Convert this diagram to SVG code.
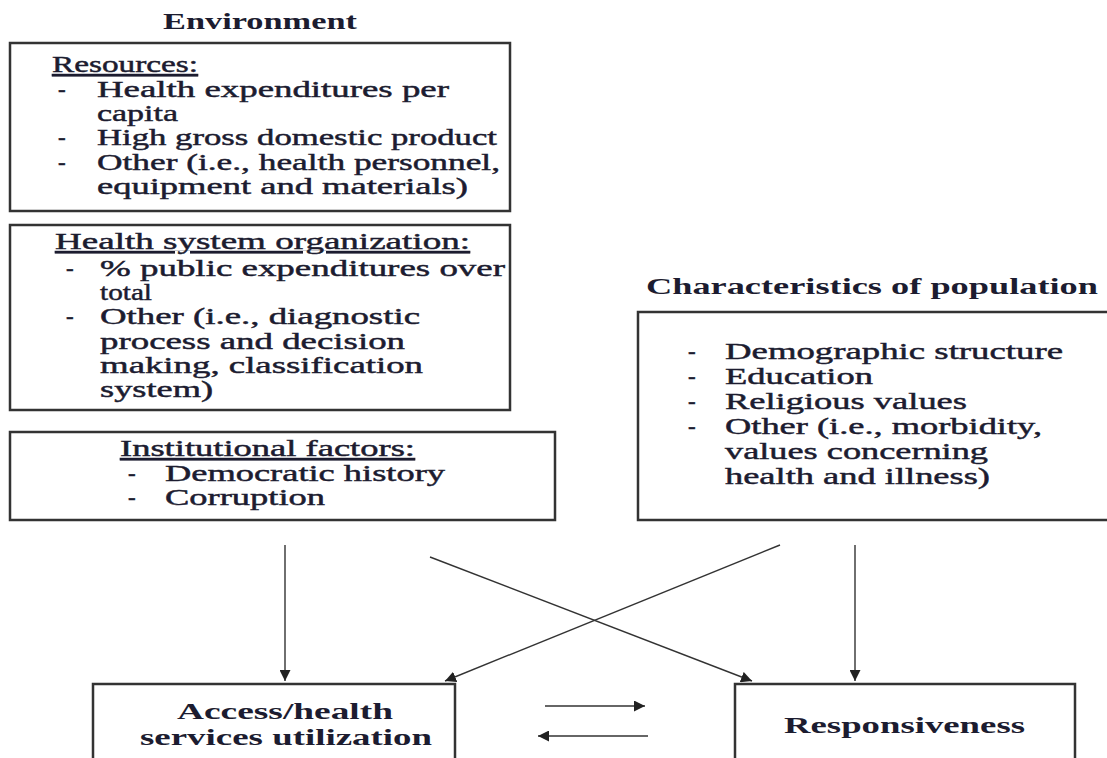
<svg xmlns="http://www.w3.org/2000/svg" width="1107" height="758" viewBox="0 0 1107 758">
<defs>
<marker id="ah" viewBox="0 0 10 10" refX="10" refY="5" markerWidth="11" markerHeight="11" markerUnits="userSpaceOnUse" orient="auto">
<path d="M0,0 L10,5 L0,10 z" fill="#222"/>
</marker>
<style>
.box{fill:#fff;stroke:#333;stroke-width:2.5}
.t{font-family:"Liberation Serif","Times New Roman",serif;font-size:23px;fill:#1c1c30;stroke:#1c1c30;stroke-width:0.45}
.b{font-family:"Liberation Serif","Times New Roman",serif;font-size:23px;font-weight:bold;fill:#1c1c30}
.u{text-decoration:underline}
.c{stroke:#333;stroke-width:1.4;fill:none;marker-end:url(#ah)}
</style>
</defs>
<rect width="1107" height="758" fill="#fff"/>
<text class="b" x="163" y="29" textLength="194" lengthAdjust="spacingAndGlyphs">Environment</text>
<g id="resources">
<rect class="box" x="10" y="43" width="500" height="168"/>
<text class="t u" x="52" y="72" textLength="146" lengthAdjust="spacingAndGlyphs">Resources:</text>
<text class="t" x="58" y="97">-</text>
<text class="t" x="97" y="97" textLength="352" lengthAdjust="spacingAndGlyphs">Health expenditures per</text>
<text class="t" x="97" y="121" textLength="81" lengthAdjust="spacingAndGlyphs">capita</text>
<text class="t" x="58" y="145">-</text>
<text class="t" x="97" y="145" textLength="400" lengthAdjust="spacingAndGlyphs">High gross domestic product</text>
<text class="t" x="58" y="170">-</text>
<text class="t" x="97" y="170" textLength="403" lengthAdjust="spacingAndGlyphs">Other (i.e., health personnel,</text>
<text class="t" x="97" y="194" textLength="371" lengthAdjust="spacingAndGlyphs">equipment and materials)</text>
</g>
<g id="organization">
<rect class="box" x="10" y="225" width="500" height="185"/>
<text class="t u" x="55" y="249" textLength="415" lengthAdjust="spacingAndGlyphs">Health system organization:</text>
<text class="t" x="66" y="276">-</text>
<text class="t" x="100" y="276" textLength="405" lengthAdjust="spacingAndGlyphs">% public expenditures over</text>
<text class="t" x="100" y="300" textLength="52" lengthAdjust="spacingAndGlyphs">total</text>
<text class="t" x="66" y="324">-</text>
<text class="t" x="100" y="324" textLength="320" lengthAdjust="spacingAndGlyphs">Other (i.e., diagnostic</text>
<text class="t" x="100" y="349" textLength="305" lengthAdjust="spacingAndGlyphs">process and decision</text>
<text class="t" x="100" y="373" textLength="323" lengthAdjust="spacingAndGlyphs">making, classification</text>
<text class="t" x="100" y="397" textLength="113" lengthAdjust="spacingAndGlyphs">system)</text>
</g>
<g id="institutional">
<rect class="box" x="10" y="432" width="545" height="88"/>
<text class="t u" x="120" y="456" textLength="295" lengthAdjust="spacingAndGlyphs">Institutional factors:</text>
<text class="t" x="128" y="481">-</text>
<text class="t" x="165" y="481" textLength="280" lengthAdjust="spacingAndGlyphs">Democratic history</text>
<text class="t" x="128" y="505">-</text>
<text class="t" x="165" y="505" textLength="160" lengthAdjust="spacingAndGlyphs">Corruption</text>
</g>
<text class="b" x="646" y="294" textLength="452" lengthAdjust="spacingAndGlyphs">Characteristics of population</text>
<g id="population">
<rect class="box" x="638" y="312" width="480" height="208"/>
<text class="t" x="688" y="359">-</text>
<text class="t" x="725" y="359" textLength="338" lengthAdjust="spacingAndGlyphs">Demographic structure</text>
<text class="t" x="688" y="384">-</text>
<text class="t" x="725" y="384" textLength="148" lengthAdjust="spacingAndGlyphs">Education</text>
<text class="t" x="688" y="409">-</text>
<text class="t" x="725" y="409" textLength="242" lengthAdjust="spacingAndGlyphs">Religious values</text>
<text class="t" x="688" y="434">-</text>
<text class="t" x="725" y="434" textLength="317" lengthAdjust="spacingAndGlyphs">Other (i.e., morbidity,</text>
<text class="t" x="725" y="459" textLength="263" lengthAdjust="spacingAndGlyphs">values concerning</text>
<text class="t" x="725" y="484" textLength="265" lengthAdjust="spacingAndGlyphs">health and illness)</text>
</g>
<g id="access">
<rect class="box" x="93" y="684" width="362" height="90"/>
<text class="b" x="177" y="719" textLength="216" lengthAdjust="spacingAndGlyphs">Access/health</text>
<text class="b" x="140" y="745" textLength="292" lengthAdjust="spacingAndGlyphs">services utilization</text>
</g>
<g id="responsiveness">
<rect class="box" x="735" y="684" width="340" height="90"/>
<text class="b" x="784" y="733" textLength="241" lengthAdjust="spacingAndGlyphs">Responsiveness</text>
</g>
<g id="connectors">
<line class="c" x1="285" y1="545" x2="285" y2="681"/>
<line class="c" x1="430" y1="557" x2="752" y2="681"/>
<line class="c" x1="780" y1="545" x2="445" y2="681"/>
<line class="c" x1="855" y1="545" x2="855" y2="681"/>
<line class="c" x1="545" y1="706" x2="645" y2="706"/>
<line class="c" x1="648" y1="736" x2="538" y2="736"/>
</g>
</svg>
